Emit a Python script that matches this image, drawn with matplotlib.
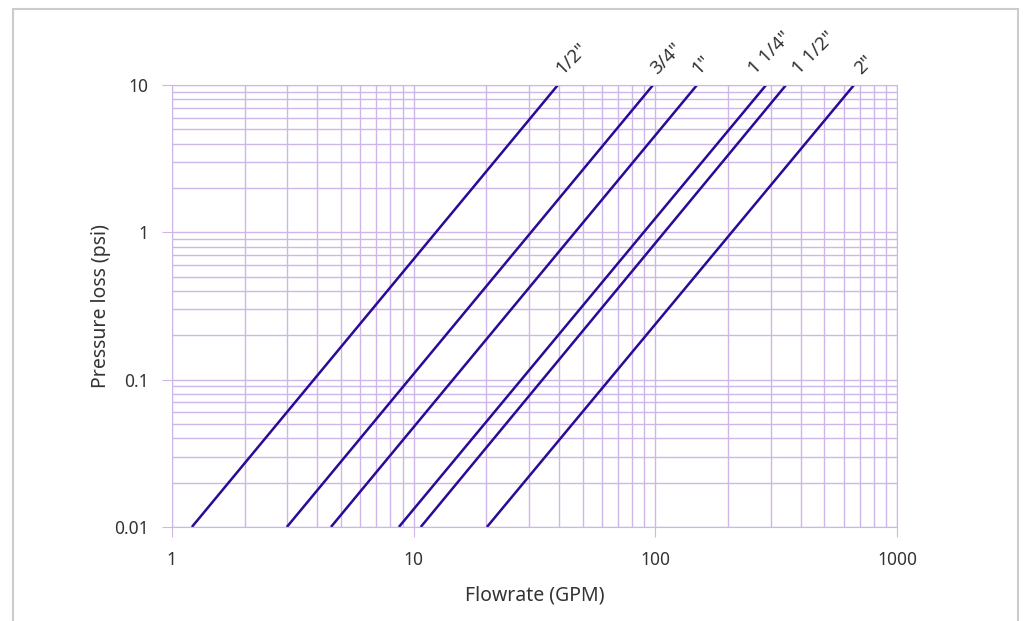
import numpy as np
import matplotlib.pyplot as plt
from matplotlib.patches import Rectangle

plt.rcParams['font.family'] = ['Noto Sans', 'DejaVu Sans']

# Pipe sizes and flow range (GPM) at 0.01 psi and 10 psi
sizes = ['1/2"', '3/4"', '1"', '1 1/4"', '1 1/2"', '2"']
q_low = [1.21, 2.99, 4.55, 8.69, 10.7, 20.1]
q_high = [39.5, 97.8, 148.6, 287, 347, 663]
dp_range = [0.01, 10]

# horizontal nudge of each size label (points)
label_dx = [3, 3, 1, -8, 9, 5]

grid_col = '#cdb6e8'
line_col = '#2a0a96'
text_col = '#333333'

fig = plt.figure(figsize=(10.23, 6.21), dpi=100)
ax = fig.add_axes([0.168, 0.1514, 0.709, 0.7117])

for name, lo, hi, dx in zip(sizes, q_low, q_high, label_dx):
    ax.plot([lo, hi], dp_range, color=line_col, lw=1.8, solid_capstyle='butt')
    ax.annotate(name, xy=(hi, dp_range[1]), xytext=(dx, 7), textcoords='offset points',
                rotation=45, ha='left', va='baseline', rotation_mode='anchor',
                fontsize=13.5, color=text_col)

ax.set_xscale('log')
ax.set_yscale('log')
ax.set_xlim(1, 1000)
ax.set_ylim(0.01, 10)
ax.set_xticks([1, 10, 100, 1000])
ax.set_xticklabels(['1', '10', '100', '1000'])
ax.set_yticks([0.01, 0.1, 1, 10])
ax.set_yticklabels(['0.01', '0.1', '1', '10'])

ax.grid(True, which='both', color=grid_col, lw=1.0)
ax.set_axisbelow(True)
ax.tick_params(which='major', length=7, color=grid_col, labelsize=12.5,
               labelcolor=text_col)
ax.tick_params(axis='x', which='major', pad=10)
ax.tick_params(axis='y', which='major', pad=10)
ax.tick_params(which='minor', length=0)
for s in ax.spines.values():
    s.set_color(grid_col)

ax.set_xlabel('Flowrate (GPM)', fontsize=14, color=text_col, labelpad=12)
ax.set_ylabel('Pressure loss (psi)', fontsize=14, color=text_col, labelpad=2)

fig.patches.append(Rectangle((13 / 1023, -0.1), (1018 - 13) / 1023, 1.1 - 9 / 621,
                             transform=fig.transFigure, fill=False,
                             edgecolor='#cccccc', lw=1.5))

fig.savefig('out.png', dpi=100)
